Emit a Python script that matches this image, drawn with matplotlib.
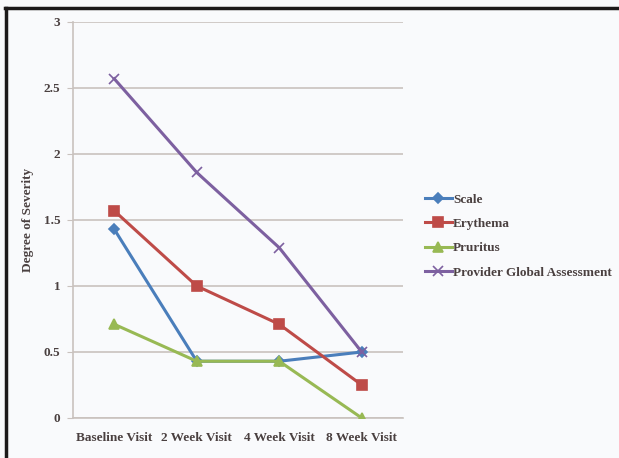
import matplotlib
matplotlib.use("Agg")
import matplotlib.pyplot as plt
from matplotlib.lines import Line2D

categories = ["Baseline Visit", "2 Week Visit", "4 Week Visit", "8 Week Visit"]
scale = [1.43, 0.43, 0.43, 0.50]
erythema = [1.57, 1.00, 0.71, 0.25]
pruritus = [0.71, 0.43, 0.43, 0.00]
provider = [2.57, 1.86, 1.29, 0.50]
yticks = [0, 0.5, 1, 1.5, 2, 2.5, 3]
ytick_labels = ["0", "0.5", "1", "1.5", "2", "2.5", "3"]

W, H = 619, 458
bg = "#f9fafc"
txt = "#4a4040"
grid_c = "#c9c2be"

plt.rcParams["font.family"] = ["Liberation Serif", "DejaVu Serif"]
plt.rcParams["font.weight"] = "bold"

fig = plt.figure(figsize=(W / 100, H / 100), dpi=100, facecolor=bg)
ax = fig.add_axes([73 / W, 1 - 418 / H, (403 - 73) / W, (418 - 22) / H], facecolor=bg)

x = list(range(len(categories)))
series = [
    ("Scale", scale, "#4a7ebb", "D", 5),
    ("Erythema", erythema, "#be4b48", "s", 7),
    ("Pruritus", pruritus, "#98b954", "^", 7),
    ("Provider Global Assessment", provider, "#7d60a0", "x", 7),
]
for name, vals, col, mk, ms in series:
    ax.plot(x, vals, color=col, lw=2.2, marker=mk, ms=ms, mec=col, mfc=col,
            mew=1.2, label=name, zorder=3)

ax.set_xlim(-0.5, 3.5)
ax.set_ylim(0, 3)
ax.set_yticks(yticks)
ax.set_yticklabels(ytick_labels)
ax.set_xticks(x)
ax.set_xticklabels(categories)
ax.yaxis.grid(True, color=grid_c, lw=1.2)
ax.set_axisbelow(True)
for s in ["top", "right"]:
    ax.spines[s].set_visible(False)
for s in ["left", "bottom"]:
    ax.spines[s].set_color(grid_c)
    ax.spines[s].set_linewidth(1.2)
ax.tick_params(axis="y", length=4, color=grid_c, labelsize=9.5, labelcolor=txt, pad=5)
ax.tick_params(axis="x", length=0, labelsize=9.5, labelcolor=txt, pad=10)
fig.text(28 / W, 1 - 220 / H, "Degree of Severity", rotation=90, ha="center", va="center",
         fontsize=9.5, color=txt, fontweight="bold")

leg = ax.legend(loc="center left", bbox_to_anchor=(420 / W, 1 - 236 / H),
                bbox_transform=fig.transFigure, frameon=False, fontsize=9.5,
                handlelength=2.0, handletextpad=0.1, labelspacing=0.92, borderaxespad=0)
for t in leg.get_texts():
    t.set_color(txt)

# frame lines (top and left)
fig.add_artist(Line2D([5 / W, 1], [1 - 8 / H, 1 - 8 / H], transform=fig.transFigure,
                      color="#1c1a1a", lw=2.5))
fig.add_artist(Line2D([6 / W, 6 / W], [0, 1 - 8 / H], transform=fig.transFigure,
                      color="#1c1a1a", lw=2.5))

fig.savefig("out.png", dpi=100, facecolor=bg)
